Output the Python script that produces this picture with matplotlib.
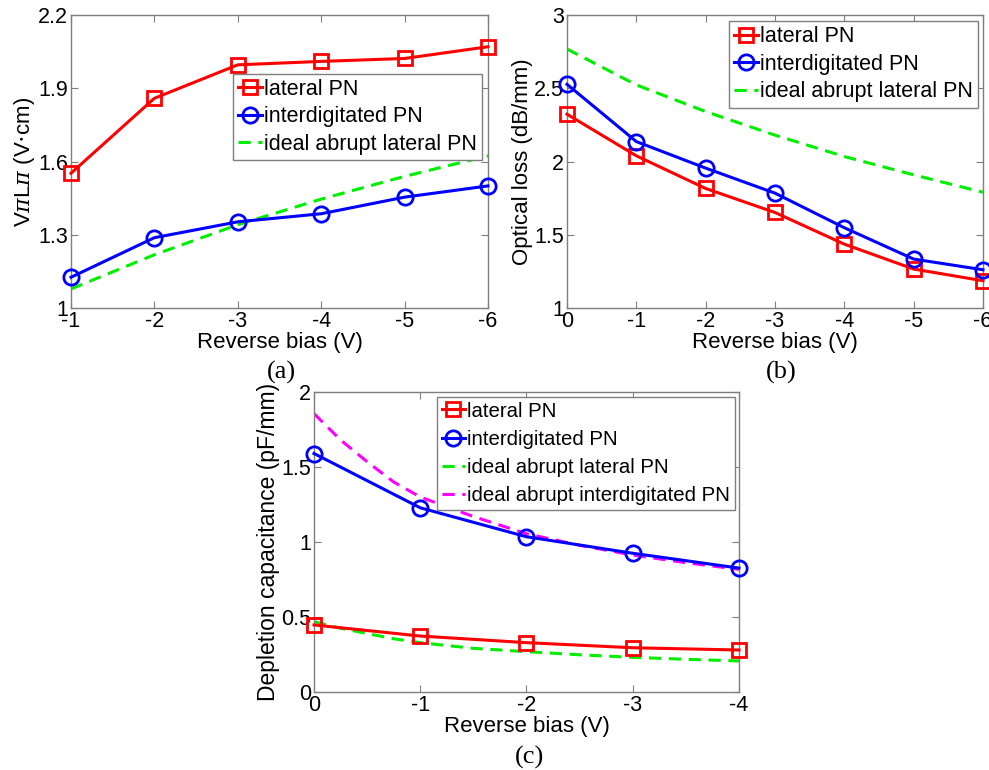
import matplotlib
matplotlib.use("Agg")
import matplotlib.pyplot as plt

plt.rcParams['font.family'] = ['Liberation Sans', 'DejaVu Sans']
plt.rcParams['mathtext.fontset'] = 'dejavuserif'

# (a) VpiLpi vs reverse bias
bias_a = [-1, -2, -3, -4, -5, -6]
vpl_lateral = [1.552, 1.859, 1.996, 2.010, 2.022, 2.070]
vpl_inter = [1.126, 1.288, 1.353, 1.386, 1.454, 1.500]
vpl_ideal = [1.078, 1.218, 1.341, 1.446, 1.539, 1.623]
yticks_a = [1.0, 1.3, 1.6, 1.9, 2.2]
yticklabels_a = ['1', '1.3', '1.6', '1.9', '2.2']

# (b) optical loss vs reverse bias
bias_b = [0, -1, -2, -3, -4, -5, -6]
loss_lateral = [2.323, 2.039, 1.816, 1.652, 1.436, 1.266, 1.186]
loss_inter = [2.527, 2.136, 1.955, 1.784, 1.548, 1.334, 1.261]
loss_ideal = [2.768, 2.523, 2.341, 2.180, 2.034, 1.909, 1.790]
yticks_b = [1.0, 1.5, 2.0, 2.5, 3.0]
yticklabels_b = ['1', '1.5', '2', '2.5', '3']

# (c) depletion capacitance vs reverse bias
bias_c = [0, -1, -2, -3, -4]
cap_lateral = [0.447, 0.373, 0.329, 0.295, 0.280]
cap_inter = [1.590, 1.228, 1.035, 0.925, 0.826]
bias_c_fine = [0, -0.25, -0.5, -0.75, -1, -1.5, -2, -2.5, -3, -3.5, -4]
cap_ideal_lat = [0.469, 0.425, 0.390, 0.355, 0.329, 0.291, 0.269, 0.248, 0.231, 0.218, 0.207]
cap_ideal_inter = [1.856, 1.680, 1.535, 1.400, 1.300, 1.170, 1.055, 0.978, 0.913, 0.862, 0.818]
yticks_c = [0, 0.5, 1.0, 1.5, 2.0]
yticklabels_c = ['0', '0.5', '1', '1.5', '2']

FS = 16
TICK_FS = 15.5
SPINE = '#7f7f7f'
GREEN = '#00ee00'


def style_axes(ax, xticks, yticks, yticklabels):
    for s in ax.spines.values():
        s.set_color(SPINE)
        s.set_linewidth(1.0)
    ax.set_xticks(xticks)
    ax.set_xticklabels([str(v) for v in xticks])
    ax.set_yticks(yticks)
    ax.set_yticklabels(yticklabels)
    ax.tick_params(direction='in', top=True, right=True, length=5,
                   color=SPINE, labelsize=TICK_FS, pad=2)
    ax.set_xlabel('Reverse bias (V)', fontsize=FS, labelpad=0)


def draw_pair(ax, x, lat, inter):
    ax.plot(x, lat, color='red', lw=2.2, marker='s', ms=9.5, mfc='none',
            mew=2, label='lateral PN', clip_on=False, zorder=3)
    ax.plot(x, inter, color='blue', lw=2.2, marker='o', ms=11, mfc='none',
            mew=2, label='interdigitated PN', clip_on=False, zorder=3)


def legend(ax, anchor, size, spacing):
    leg = ax.legend(loc='upper right', bbox_to_anchor=anchor, fontsize=size,
                    handlelength=1.1, handletextpad=0.1, borderpad=0.25,
                    labelspacing=spacing, borderaxespad=0.0, fancybox=False,
                    framealpha=1)
    leg.get_frame().set_edgecolor(SPINE)
    leg.get_frame().set_linewidth(1.0)


fig = plt.figure(figsize=(9.89, 7.70), dpi=100)

# panel (a)
ax1 = fig.add_axes([0.0718, 0.600, 0.4216, 0.3805])
draw_pair(ax1, bias_a, vpl_lateral, vpl_inter)
ax1.plot(bias_a, vpl_ideal, color=GREEN, lw=2.2, ls=(0, (4, 2.5)),
         label='ideal abrupt lateral PN')
ax1.set_xlim(-1, -6)
ax1.set_ylim(1.0, 2.2)
style_axes(ax1, bias_a, yticks_a, yticklabels_a)
ax1.set_ylabel(r'V$\pi$L$\pi$ (V$\cdot$cm)', fontsize=FS, labelpad=1)
legend(ax1, (0.986, 0.80), 15.5, 0.3)

# panel (b)
ax2 = fig.add_axes([0.5733, 0.600, 0.4206, 0.3805])
draw_pair(ax2, bias_b, loss_lateral, loss_inter)
ax2.plot(bias_b, loss_ideal, color=GREEN, lw=2.2, ls=(0, (4, 2.5)),
         label='ideal abrupt lateral PN')
ax2.set_xlim(0, -6)
ax2.set_ylim(1.0, 3.0)
style_axes(ax2, bias_b, yticks_b, yticklabels_b)
ax2.set_ylabel('Optical loss (dB/mm)', fontsize=FS, labelpad=1)
legend(ax2, (0.988, 0.98), 15.5, 0.3)

# panel (c)
ax3 = fig.add_axes([0.3175, 0.1013, 0.4297, 0.3896])
draw_pair(ax3, bias_c, cap_lateral, cap_inter)
ax3.plot(bias_c_fine, cap_ideal_lat, color=GREEN, lw=2.2, ls=(0, (4, 2.5)),
         label='ideal abrupt lateral PN')
ax3.plot(bias_c_fine, cap_ideal_inter, color='magenta', lw=2.2,
         ls=(0, (4, 2.5)), label='ideal abrupt interdigitated PN')
ax3.set_xlim(0, -4)
ax3.set_ylim(0, 2.0)
style_axes(ax3, bias_c, yticks_c, yticklabels_c)
ax3.set_ylabel('Depletion capacitance (pF/mm)', fontsize=16.5, labelpad=1)
legend(ax3, (0.99, 0.985), 14.7, 0.45)

# panel captions
for x, y, t in [(281, 372, '(a)'), (781, 372, '(b)'), (530, 757, '(c)')]:
    fig.text(x / 989, 1 - y / 770, t, ha='center', va='center',
             fontsize=19, family='Liberation Serif')

fig.savefig('out.png', dpi=100)
